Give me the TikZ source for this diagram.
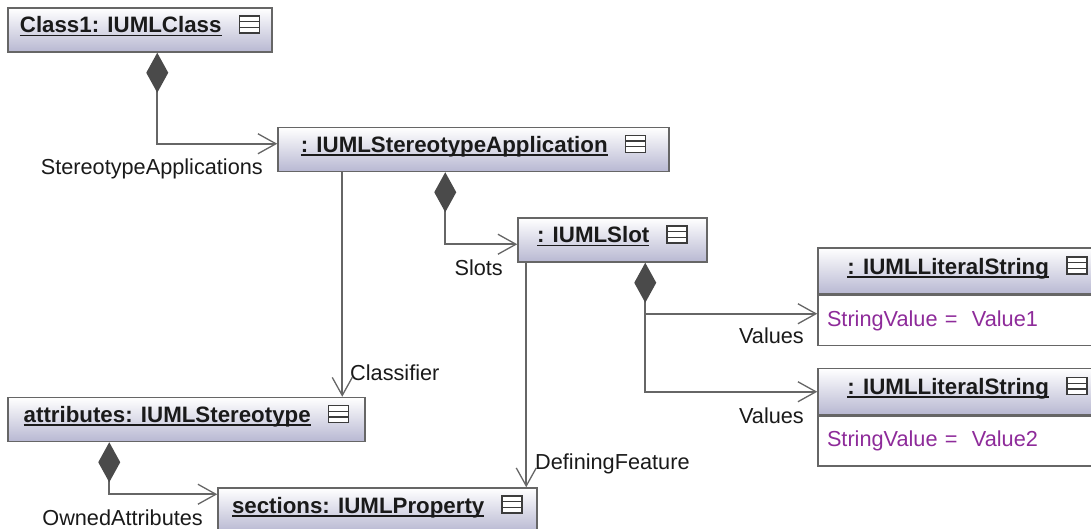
\documentclass[tikz,border=0pt]{standalone}
\usepackage{fontspec}
\setmainfont{Liberation Sans}
\usetikzlibrary{arrows.meta,positioning,calc}
\definecolor{linegray}{HTML}{666666}
\definecolor{boxgray}{HTML}{666666}
\definecolor{headtop}{HTML}{FFFFFF}
\definecolor{headbot}{HTML}{B8B8D2}
\definecolor{diamondgray}{HTML}{4A4A4A}
\definecolor{valpurple}{HTML}{8E2B9A}
\definecolor{ink}{HTML}{1A1A1A}
\newcommand{\umlfont}{\fontsize{21.7}{26}\selectfont}
\newcommand{\headfont}{\fontsize{22.3}{26}\selectfont}
\newsavebox{\titlebox}
\newcommand{\compicon}{\tikz[baseline=0pt,x=1pt,y=1pt]{%
  \draw[draw=ink!85,line width=1.6pt,fill=white] (0,0) rectangle (20,17);
  \draw[draw=ink!85,line width=1.4pt] (0,5.7) -- (20,5.7) (0,11.3) -- (20,11.3);}}
\newcommand{\objtitle}[1]{\sbox{\titlebox}{\textbf{#1}}%
  \rlap{\rule[-3.5pt]{\wd\titlebox}{1.7pt}}\usebox{\titlebox}\hspace{17pt}\compicon}
\tikzset{
  objhead/.style={draw=boxgray,line width=1.5pt,top color=headtop,bottom color=headbot,
                  minimum height=44pt,inner sep=0pt,text height=14pt,text depth=8pt,
                  font=\headfont,text=ink},
  objbody/.style={draw=boxgray,line width=1.5pt,fill=white,minimum height=50pt,
                  text width=281pt,inner xsep=9pt,inner ysep=0pt,align=left,
                  font=\umlfont,text=valpurple},
  rolelbl/.style={inner sep=0pt,font=\umlfont,text=ink},
  nav/.style={draw=linegray,line width=1.8pt,
              -{Straight Barb[length=18pt,width=20pt,line width=1.3pt]}},
  compo/.style={nav,{Diamond[length=40pt,width=22pt,fill=diamondgray,color=diamondgray]}-{Straight Barb[length=18pt,width=20pt,line width=1.3pt]}}
}
\begin{document}
\begin{tikzpicture}[x=1pt,y=-1pt]
  \useasboundingbox (0,0) rectangle (1091,529);
  % object boxes
  \node[objhead,minimum width=264pt] (cls) at (140,30) {\objtitle{Class1: IUMLClass}};
  \node[objhead,minimum width=391pt] (stapp) at (473.5,149.5) {\objtitle{: IUMLStereotypeApplication}};
  \node[objhead,minimum width=189pt] (slot) at (612.5,240) {\objtitle{: IUMLSlot}};
  \node[objhead,minimum width=299pt,minimum height=46pt] (lit1) at (967.5,271) {\objtitle{: IUMLLiteralString}};
  \node[objbody,below=0pt of lit1] (val1) {StringValue =\ \ Value1};
  \node[objhead,minimum width=299pt,minimum height=46pt] (lit2) at (967.5,391.5) {\objtitle{: IUMLLiteralString}};
  \node[objbody,below=0pt of lit2] (val2) {StringValue =\ \ Value2};
  \node[objhead,minimum width=357pt] (attr) at (186.5,419.5) {\objtitle{attributes: IUMLStereotype}};
  \node[objhead,minimum width=319pt] (sect) at (377.5,510) {\objtitle{sections: IUMLProperty}};
  % links
  \draw[compo] ($(cls.south west)+(150,0)$) |- ($(stapp.north west)+(0,17)$);
  \draw[compo] ($(stapp.south west)+(168,0)$) |- ($(slot.north west)+(0,27)$);
  \draw[nav] ($(slot.south west)+(128,40)$) |- ($(lit2.north west)+(0,24)$);
  \draw[compo] ($(slot.south west)+(128,0)$) |- ($(val1.north west)+(0,19)$);
  \draw[nav] ($(stapp.south west)+(65,0)$) -- ($(attr.north west)+(335,0)$);
  \draw[nav] ($(slot.south west)+(9,0)$) -- ($(sect.north west)+(309,0)$);
  \draw[compo] ($(attr.south west)+(102,0)$) |- ($(sect.north west)+(0,7)$);
  % role names
  \node[rolelbl,anchor=base east] at (263,175) {StereotypeApplications};
  \node[rolelbl,anchor=base east] at (503,275) {Slots};
  \node[rolelbl,anchor=base east] at (804,343) {Values};
  \node[rolelbl,anchor=base east] at (804,423) {Values};
  \node[rolelbl,anchor=base west] at (350,380) {Classifier};
  \node[rolelbl,anchor=base west] at (535,469) {DefiningFeature};
  \node[rolelbl,anchor=base east] at (203,525) {OwnedAttributes};
\end{tikzpicture}
\end{document}
